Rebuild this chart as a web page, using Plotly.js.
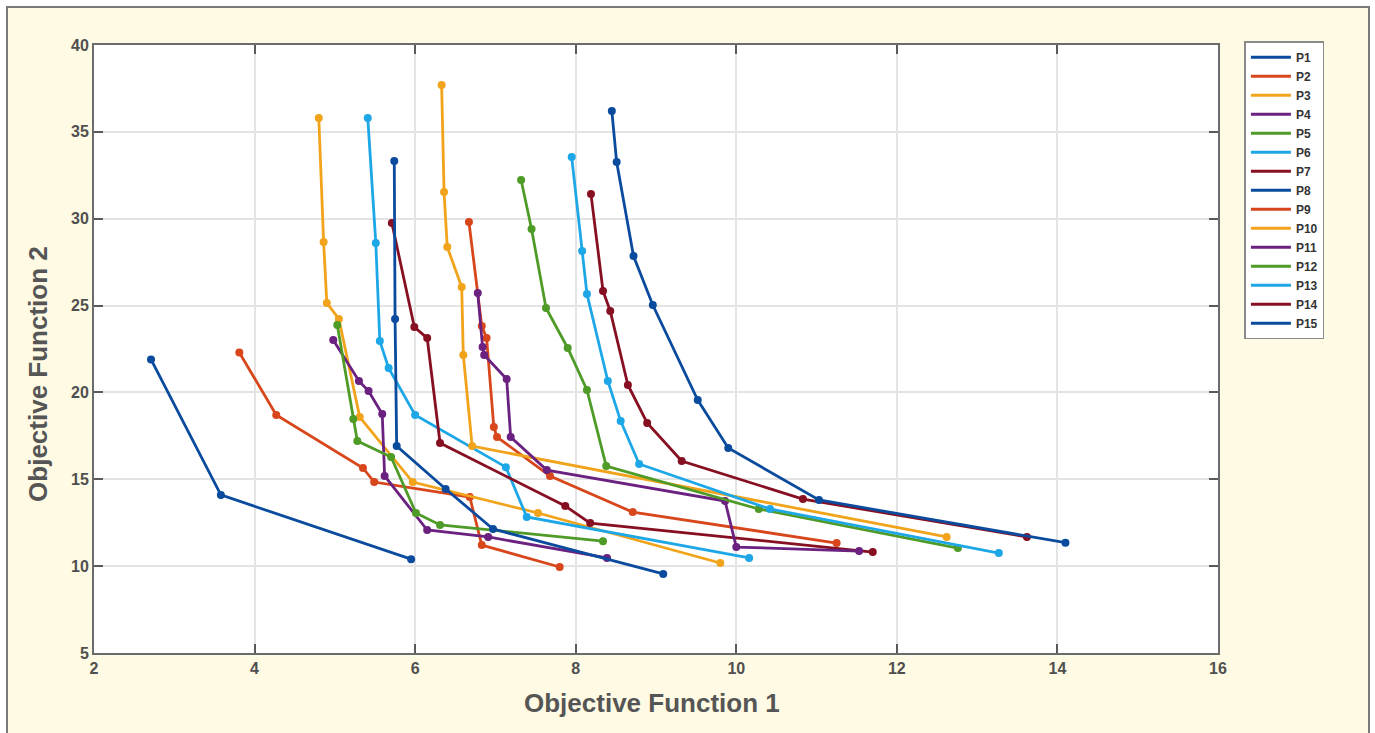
<!DOCTYPE html>
<html>
<head>
<meta charset="utf-8">
<script src="https://cdn.plot.ly/plotly-3.0.1.min.js"></script>
<style>
  html, body { margin: 0; padding: 0; background: #ffffff; width: 1375px; height: 733px; overflow: hidden; }
  #frame { position: absolute; left: 6px; top: 6px; width: 1360px; height: 740px; background: #fffae3; border: 2px solid #7a7a7a; }
  #chart { position: absolute; left: 0; top: 0; width: 1375px; height: 733px; }
</style>
</head>
<body>
<div id="frame"></div>
<div id="chart"></div>
<script>
// Series names
const names = ["P1","P2","P3","P4","P5","P6","P7","P8","P9","P10","P11","P12","P13","P14","P15"];

// Objective Function 1 values (x) per series
const x1  = [2.71, 3.58, 5.95];
const x2  = [3.81, 4.27, 5.35, 5.49, 6.68, 6.83, 7.80];
const x3  = [4.80, 4.86, 4.90, 5.05, 5.31, 5.97, 7.53, 9.80];
const x4  = [4.98, 5.30, 5.42, 5.59, 5.62, 6.15, 6.91, 8.39];
const x5  = [5.03, 5.23, 5.28, 5.70, 6.01, 6.31, 8.34];
const x6  = [5.41, 5.51, 5.56, 5.67, 6.00, 7.13, 7.39, 10.16];
const x7  = [5.71, 5.99, 6.15, 6.31, 7.87, 8.18, 11.70];
const x8  = [5.74, 5.75, 5.77, 6.38, 6.97, 9.09];
const x9  = [6.67, 6.83, 6.89, 6.98, 7.02, 7.68, 8.71, 11.25];
const x10 = [6.33, 6.36, 6.40, 6.58, 6.60, 6.71, 12.62];
const x11 = [6.78, 6.84, 6.86, 7.14, 7.19, 7.64, 9.86, 10.00, 11.53];
const x12 = [7.32, 7.45, 7.63, 7.90, 8.14, 8.38, 10.28, 12.76];
const x13 = [7.95, 8.08, 8.14, 8.40, 8.56, 8.79, 10.42, 13.27];
const x14 = [8.19, 8.34, 8.43, 8.65, 8.89, 9.32, 10.83, 13.62];
const x15 = [8.45, 8.51, 8.72, 8.96, 9.52, 9.90, 11.03, 14.10];

// Objective Function 2 values (y) per series
const y1  = [21.9, 14.1, 10.4];
const y2  = [22.3, 18.7, 15.65, 14.84, 13.98, 11.21, 9.95];
const y3  = [35.8, 28.66, 25.15, 24.23, 18.58, 14.84, 13.06, 10.18];
const y4  = [23.02, 20.66, 20.08, 18.76, 15.19, 12.08, 11.68, 10.47];
const y5  = [23.88, 18.47, 17.2, 16.28, 13.06, 12.37, 11.44];
const y6  = [35.8, 28.6, 22.96, 21.4, 18.7, 15.7, 12.83, 10.47];
const y7  = [29.75, 23.76, 23.13, 17.09, 13.46, 12.48, 10.81];
const y8  = [33.32, 24.23, 16.91, 14.44, 12.14, 9.55];
const y9  = [29.81, 23.82, 23.13, 18.01, 17.43, 15.19, 13.11, 11.33];
const y10 = [37.7, 31.54, 28.37, 26.07, 22.15, 16.91, 11.68];
const y11 = [25.72, 22.61, 22.15, 20.77, 17.43, 15.53, 13.75, 11.1, 10.87];
const y12 = [32.23, 29.41, 24.86, 22.56, 20.14, 15.76, 13.29, 11.04];
const y13 = [33.55, 28.14, 25.67, 20.66, 18.35, 15.88, 13.29, 10.75];
const y14 = [31.42, 25.84, 24.69, 20.43, 18.24, 16.05, 13.86, 11.68];
const y15 = [36.2, 33.26, 27.85, 25.03, 19.56, 16.8, 13.81, 11.35];

const xs = [x1,x2,x3,x4,x5,x6,x7,x8,x9,x10,x11,x12,x13,x14,x15];
const ys = [y1,y2,y3,y4,y5,y6,y7,y8,y9,y10,y11,y12,y13,y14,y15];

// Tick values
const xTicks = [2, 4, 6, 8, 10, 12, 14, 16];
const yTicks = [5, 10, 15, 20, 25, 30, 35, 40];

const palette = ["#0b4b9e", "#d8461c", "#f1a41b", "#6a2180", "#4f9b27", "#1ea7e7", "#860f22"];

const traces = [];
names.forEach((n, i) => {
  const c = palette[i % palette.length];
  traces.push({
    x: xs[i], y: ys[i], type: "scatter", mode: "lines+markers",
    name: n, legendgroup: n, showlegend: false,
    line: { color: c, width: 2.8 },
    marker: { color: c, size: 8 },
    hoverinfo: "x+y+name"
  });
});
names.forEach((n, i) => {
  const c = palette[i % palette.length];
  traces.push({
    x: [null], y: [null], type: "scatter", mode: "lines",
    name: n, legendgroup: n, showlegend: true,
    line: { color: c, width: 3 }
  });
});

const tickFont = { family: "Liberation Sans, Arial, sans-serif", size: 16, color: "#4f4f4f", weight: "bold" };

const axisCommon = {
  showline: true, mirror: "ticks", linecolor: "#6b6b6b", linewidth: 2,
  ticks: "inside", ticklen: 9, tickwidth: 2, tickcolor: "#5a5a5a",
  showgrid: true, gridcolor: "#e4e4e4", gridwidth: 1.5,
  zeroline: false, tickfont: tickFont, fixedrange: true
};

const layout = {
  width: 1375, height: 733,
  margin: { l: 94, r: 157, t: 45, b: 80 },
  paper_bgcolor: "rgba(0,0,0,0)",
  plot_bgcolor: "#ffffff",
  showlegend: true,
  xaxis: Object.assign({}, axisCommon, { range: [2, 16], tickvals: xTicks, ticktext: xTicks.map(String) }),
  yaxis: Object.assign({}, axisCommon, { range: [5, 40], tickvals: yTicks, ticktext: yTicks.map(String) }),
  legend: {
    x: 1.0235, y: 1.006, xanchor: "left", yanchor: "top",
    bgcolor: "#ffffff", bordercolor: "#8a8a8a", borderwidth: 1.5,
    font: { family: "Liberation Sans, Arial, sans-serif", size: 12, color: "#333333", weight: "bold" },
    tracegroupgap: 0, itemwidth: 40
  },
  annotations: [
    { text: "Objective Function 1", xref: "paper", yref: "paper", x: 0.4964, y: -0.0822,
      xanchor: "center", yanchor: "middle", showarrow: false,
      font: { family: "Liberation Sans, Arial, sans-serif", size: 26, color: "#555555", weight: "bold" } },
    { text: "Objective Function 2", xref: "paper", yref: "paper", x: -0.0498, y: 0.459,
      xanchor: "center", yanchor: "middle", textangle: -90, showarrow: false,
      font: { family: "Liberation Sans, Arial, sans-serif", size: 26, color: "#555555", weight: "bold" } }
  ]
};

Plotly.newPlot("chart", traces, layout, { displayModeBar: false, staticPlot: false });
</script>
</body>
</html>
